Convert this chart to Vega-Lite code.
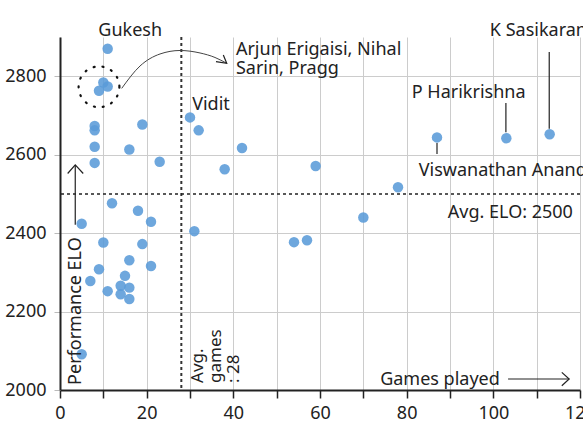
{
  "$schema": "https://vega.github.io/schema/vega-lite/v6.json",
  "autosize": {"type": "none"},
  "width": 520,
  "height": 353,
  "padding": {"left": 60, "top": 37, "right": 3, "bottom": 47},
  "background": "white",
  "config": {
    "view": {"stroke": null},
    "font": "Noto Sans",
    "text": {"font": "Noto Sans", "fontSize": 18, "color": "#222"}
  },
  "datasets": {
    "players": [
      {"games": 11, "elo": 2870}, {"games": 10, "elo": 2784}, {"games": 11, "elo": 2774},
      {"games": 9, "elo": 2763}, {"games": 8, "elo": 2673}, {"games": 8, "elo": 2662},
      {"games": 8, "elo": 2620}, {"games": 8, "elo": 2579}, {"games": 19, "elo": 2677},
      {"games": 16, "elo": 2613}, {"games": 23, "elo": 2582}, {"games": 12, "elo": 2476},
      {"games": 18, "elo": 2457}, {"games": 21, "elo": 2429}, {"games": 5, "elo": 2424},
      {"games": 10, "elo": 2376}, {"games": 19, "elo": 2372}, {"games": 16, "elo": 2331},
      {"games": 9, "elo": 2308}, {"games": 21, "elo": 2316}, {"games": 7, "elo": 2278},
      {"games": 15, "elo": 2291}, {"games": 11, "elo": 2252}, {"games": 14, "elo": 2266},
      {"games": 16, "elo": 2261}, {"games": 14, "elo": 2244}, {"games": 16, "elo": 2232},
      {"games": 5, "elo": 2091}, {"games": 30, "elo": 2695}, {"games": 32, "elo": 2662},
      {"games": 42, "elo": 2617}, {"games": 38, "elo": 2563}, {"games": 59, "elo": 2571},
      {"games": 78, "elo": 2517}, {"games": 70, "elo": 2440}, {"games": 31, "elo": 2405},
      {"games": 54, "elo": 2377}, {"games": 57, "elo": 2382}, {"games": 87, "elo": 2644},
      {"games": 103, "elo": 2642}, {"games": 113, "elo": 2652}
    ],
    "labelsLeft": [
      {"x": 30.5, "y": 2714, "t": "Vidit"},
      {"x": 99.2, "y": 2902, "t": "K Sasikaran"},
      {"x": 82.8, "y": 2546, "t": "Viswanathan Anand"},
      {"x": 89.5, "y": 2438, "t": "Avg. ELO: 2500"}
    ],
    "labelsCenter": [
      {"x": 16.2, "y": 2902, "t": "Gukesh"},
      {"x": 94.3, "y": 2744, "t": "P Harikrishna"}
    ],
    "labelsRight": [
      {"x": 101.5, "y": 2013, "t": "Games played"}
    ],
    "segments": [
      {"id": "hari", "o": 1, "x": 102.9, "y": 2732},
      {"id": "hari", "o": 2, "x": 102.9, "y": 2657},
      {"id": "sasi", "o": 1, "x": 112.9, "y": 2862},
      {"id": "sasi", "o": 2, "x": 112.9, "y": 2666},
      {"id": "anand", "o": 1, "x": 87, "y": 2630},
      {"id": "anand", "o": 2, "x": 87, "y": 2602},
      {"id": "perf", "o": 1, "x": 3.52, "y": 2421},
      {"id": "perf", "o": 2, "x": 3.52, "y": 2573},
      {"id": "perfhead", "o": 1, "x": 1.77, "y": 2552},
      {"id": "perfhead", "o": 2, "x": 3.52, "y": 2574},
      {"id": "perfhead", "o": 3, "x": 5.36, "y": 2552},
      {"id": "games", "o": 1, "x": 103.4, "y": 2028},
      {"id": "games", "o": 2, "x": 117.5, "y": 2028},
      {"id": "gameshead", "o": 1, "x": 115.8, "y": 2045},
      {"id": "gameshead", "o": 2, "x": 117.5, "y": 2028},
      {"id": "gameshead", "o": 3, "x": 115.8, "y": 2011},
      {"id": "curvehead", "o": 1, "x": 36.0, "y": 2837},
      {"id": "curvehead", "o": 2, "x": 38.47, "y": 2833},
      {"id": "curvehead", "o": 3, "x": 37.69, "y": 2854}
    ],
    "curve": [
      {"x": 14.24, "y": 2769}, {"x": 18.46, "y": 2826}, {"x": 23.08, "y": 2856.7},
      {"x": 27.69, "y": 2865.6}, {"x": 32.31, "y": 2859.3}, {"x": 35.77, "y": 2847.8},
      {"x": 38.47, "y": 2833}
    ]
  },
  "layer": [
    {
      "data": {"name": "players"},
      "mark": {"type": "circle", "size": 110, "color": "#5a9bd8", "opacity": 0.88},
      "encoding": {
        "x": {
          "field": "games", "type": "quantitative",
          "scale": {"domain": [0, 120], "nice": false, "zero": true},
          "axis": {
            "values": [0, 10, 20, 30, 40, 50, 60, 70, 80, 90, 100, 110, 120],
            "labelExpr": "datum.value % 20 == 0 ? datum.label : ''",
            "title": null, "grid": true, "gridColor": "#cccccc", "gridWidth": 1,
            "domainColor": "#222", "domainWidth": 2, "tickColor": "#222", "tickWidth": 1.5,
            "tickSize": 8, "labelFontSize": 18, "labelColor": "#222", "labelPadding": 6,
            "labelFont": "Noto Sans", "labelFlush": false
          }
        },
        "y": {
          "field": "elo", "type": "quantitative",
          "scale": {"domain": [2000, 2900], "nice": false, "zero": false},
          "axis": {
            "values": [2000, 2200, 2400, 2600, 2800], "format": "d",
            "title": null, "grid": true, "gridColor": "#cccccc", "gridWidth": 1,
            "domainColor": "#222", "domainWidth": 2, "tickColor": "#bbb", "tickSize": 6,
            "labelFontSize": 18, "labelColor": "#222", "labelPadding": 8,
            "labelFont": "Noto Sans"
          }
        }
      }
    },
    {
      "data": {"values": [{"v": 28}]},
      "mark": {"type": "rule", "strokeDash": [3, 3], "strokeWidth": 2, "color": "#333"},
      "encoding": {"x": {"field": "v", "type": "quantitative"}}
    },
    {
      "data": {"values": [{"v": 2500}]},
      "mark": {"type": "rule", "strokeDash": [3, 3], "strokeWidth": 1.5, "color": "#222"},
      "encoding": {"y": {"field": "v", "type": "quantitative"}}
    },
    {
      "data": {"values": [{"x": 9.0, "y": 2773}]},
      "mark": {"type": "point", "shape": "circle", "size": 1662, "filled": false, "stroke": "#111", "strokeWidth": 2.2, "strokeDash": [1, 8], "strokeCap": "round", "opacity": 1},
      "encoding": {
        "x": {"field": "x", "type": "quantitative"},
        "y": {"field": "y", "type": "quantitative"}
      }
    },
    {
      "data": {"name": "curve"},
      "mark": {"type": "line", "interpolate": "monotone", "color": "#444", "strokeWidth": 1},
      "encoding": {
        "x": {"field": "x", "type": "quantitative"},
        "y": {"field": "y", "type": "quantitative"}
      }
    },
    {
      "data": {"name": "segments"},
      "mark": {"type": "line", "color": "#222", "strokeWidth": 1.2},
      "encoding": {
        "x": {"field": "x", "type": "quantitative"},
        "y": {"field": "y", "type": "quantitative"},
        "detail": {"field": "id"},
        "order": {"field": "o", "type": "quantitative"}
      }
    },
    {
      "data": {"name": "labelsLeft"},
      "mark": {"type": "text", "align": "left", "baseline": "alphabetic"},
      "encoding": {
        "x": {"field": "x", "type": "quantitative"},
        "y": {"field": "y", "type": "quantitative"},
        "text": {"field": "t"}
      }
    },
    {
      "data": {"name": "labelsCenter"},
      "mark": {"type": "text", "align": "center", "baseline": "alphabetic"},
      "encoding": {
        "x": {"field": "x", "type": "quantitative"},
        "y": {"field": "y", "type": "quantitative"},
        "text": {"field": "t"}
      }
    },
    {
      "data": {"name": "labelsRight"},
      "mark": {"type": "text", "align": "right", "baseline": "alphabetic"},
      "encoding": {
        "x": {"field": "x", "type": "quantitative"},
        "y": {"field": "y", "type": "quantitative"},
        "text": {"field": "t"}
      }
    },
    {
      "data": {"values": [{"x": 40.6, "y": 2854, "t": "Arjun Erigaisi, Nihal\nSarin, Pragg"}]},
      "mark": {"type": "text", "align": "left", "baseline": "alphabetic", "lineBreak": "\n", "lineHeight": 19},
      "encoding": {
        "x": {"field": "x", "type": "quantitative"},
        "y": {"field": "y", "type": "quantitative"},
        "text": {"field": "t"}
      }
    },
    {
      "data": {"values": [{"x": 30.0, "y": 2018, "t": "Avg.\ngames\n: 28"}]},
      "mark": {"type": "text", "align": "left", "baseline": "top", "angle": 270, "lineBreak": "\n", "lineHeight": 18, "fontSize": 17},
      "encoding": {
        "x": {"field": "x", "type": "quantitative"},
        "y": {"field": "y", "type": "quantitative"},
        "text": {"field": "t"}
      }
    },
    {
      "data": {"values": [{"x": 3.8, "y": 2013, "t": "Performance ELO"}]},
      "mark": {"type": "text", "align": "left", "baseline": "middle", "angle": 270, "fontSize": 18},
      "encoding": {
        "x": {"field": "x", "type": "quantitative"},
        "y": {"field": "y", "type": "quantitative"},
        "text": {"field": "t"}
      }
    }
  ]
}
